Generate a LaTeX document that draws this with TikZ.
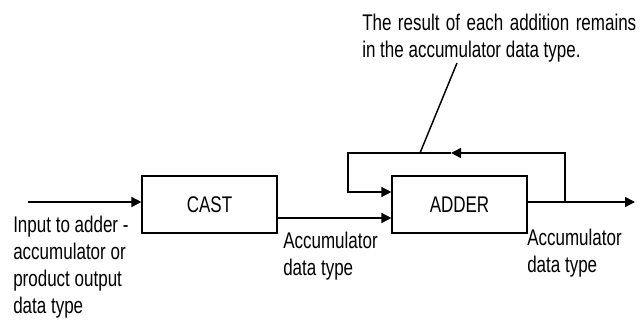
\documentclass[tikz,border=0pt]{standalone}
\usepackage{fontspec}
\setmainfont{Liberation Sans}[FakeStretch=0.75]
\usetikzlibrary{arrows.meta,positioning,calc}

\begin{document}
\begin{tikzpicture}[>={Triangle[length=7.5pt,width=7.5pt]}, x=0.75pt, y=-0.75pt,
  blk/.style={draw,line width=1.1pt,minimum width=101pt,minimum height=43pt,inner sep=0pt,
    font=\fontsize{17}{20.25}\selectfont},
  lbl/.style={align=left,anchor=north west,inner sep=0pt,font=\fontsize{17}{20.25}\selectfont},
  wire/.style={line width=1.1pt}]
  \useasboundingbox (0,0) rectangle (641,320);
  % blocks
  \node[blk] (cast) at (209.5,204.5) {CAST};
  \node[blk] (adder) at (459.5,204.5) {ADDER};
  % wire points
  \coordinate (src) at (28,202);
  \coordinate (upin) at (348,192);
  \coordinate (out) at (635,202);
  \coordinate (tap) at (565,202);
  \coordinate (topR) at (565,153);
  \coordinate (topM) at (451,153);
  \coordinate (topL) at (348,153);
  \coordinate (foot) at (420,153);
  \coordinate (lead) at (457,63);
  % signal path
  \draw[wire,->] (src) -- (src -| cast.west);
  \draw[wire,->] (cast.east |- 0,218) -- (adder.west |- 0,218);
  \draw[wire,->] (adder.east |- out) -- (out);
  % feedback loop
  \draw[wire,->] (tap) -- (topR) -- (topM);
  \draw[wire,->] (topM) -- (topL) -- (upin) -- (upin -| adder.west);
  \draw[wire] (foot) -- (lead);
  % labels
  \node[lbl] (note) at (362,14) {\makebox[205.5pt][s]{The result of each addition remains}\\in the accumulator data type.};
  \node[lbl] (inlbl) at (13,216) {Input to adder -\\accumulator or\\product output\\data type};
  \node[lbl] (castlbl) at (283,232) {Accumulator\\data type};
  \node[lbl] (addlbl) at (527,229) {Accumulator\\data type};
\end{tikzpicture}
\end{document}
